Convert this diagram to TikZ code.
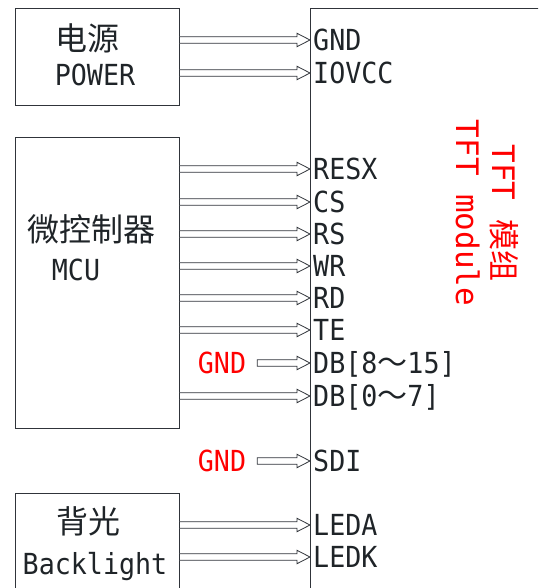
\documentclass[tikz,border=0pt]{standalone}
\usepackage{fontspec}
\usetikzlibrary{calc}
\newfontfamily\pinfont[FakeStretch=0.92]{DejaVu Sans Mono}
\newfontfamily\tftfont{DejaVu Sans Mono}
\newfontfamily\cjkfont{Noto Sans CJK SC}
\definecolor{linie}{HTML}{30343A}
\definecolor{schrift}{HTML}{1F2428}
\newcommand{\welle}{{\cjkfont\fontsize{30}{30}\selectfont ～}}
\newcommand{\sigpfeil}[2]{\draw[pfeil] let \p1=(#1), \p2=(#2) in
  (\x1,\y2+3.3pt) -- (\x2-13pt,\y2+3.3pt) -- (\x2-13pt,\y2+6.7pt) -- (\x2,\y2)
  -- (\x2-13pt,\y2-6.7pt) -- (\x2-13pt,\y2-3.3pt) -- (\x1,\y2-3.3pt) -- cycle;}
\begin{document}
\begin{tikzpicture}[
      x=1pt, y=-1pt,
      box/.style={draw=linie, line width=0.9pt, inner sep=0pt, minimum width=164pt},
      cn/.style={text=schrift, font=\cjkfont\fontsize{32}{36}\selectfont},
      en/.style={text=schrift, inner sep=0pt, text height=21pt, text depth=0pt, font=\pinfont\fontsize{29}{32}\selectfont},
      pin/.style={en, anchor=west, inner xsep=3pt},
      rot/.style={en, text=red},
      pfeil/.style={draw=linie, line width=0.8pt, fill=white}
    ]
      \useasboundingbox (0,0) rectangle (538,588);
      \clip (0,0) rectangle (538,588);
      \node[box, minimum height=97pt] (power) at (97,56.5) {};
      \node[box, minimum height=291pt] (mcu) at (97,282.5) {};
      \node[box, minimum height=150pt] (backlight) at (97,568) {};
      \node[box, minimum width=290pt, minimum height=692pt] (tft) at (455,354) {};
      \node[cn] (powercn) at (87,38) {电源};
      \node[en] (poweren) at (95,75) {POWER};
      \node[cn] (mcucn) at (91,229) {微控制器};
      \node[en] (mcuen) at (76,270) {MCU};
      \node[cn] (backlightcn) at (88,521) {背光};
      \node[en] (backlighten) at (95,564) {Backlight};
      \node[pin] (gnd) at (310,40) {GND};
      \node[pin] (iovcc) at (310,73) {IOVCC};
      \node[pin] (resx) at (310,169) {RESX};
      \node[pin] (cs) at (310,202) {CS};
      \node[pin] (rs) at (310,234) {RS};
      \node[pin] (wr) at (310,266) {WR};
      \node[pin] (rd) at (310,298) {RD};
      \node[pin] (te) at (310,330) {TE};
      \node[pin] (dbhi) at (310,363) {DB[8\welle 15]};
      \node[pin] (dblo) at (310,396) {DB[0\welle 7]};
      \node[pin] (sdi) at (310,461) {SDI};
      \node[pin] (leda) at (310,525) {LEDA};
      \node[pin] (ledk) at (310,557) {LEDK};
      \node[rot] (gnddb) at (222,363) {GND};
      \node[rot] (gndsdi) at (222,461) {GND};
      \node[rotate=-90, text=red, align=center, font=\tftfont\fontsize{31}{36}\selectfont] (tftname) at (487,213) {TFT {\cjkfont 模组}\\TFT module};
      \sigpfeil{power.east |- gnd.west}{gnd.west}
      \sigpfeil{power.east |- iovcc.west}{iovcc.west}
      \foreach \sig in {resx, cs, rs, wr, rd, te, dblo} {
        \sigpfeil{mcu.east |- \sig.west}{\sig.west}
      }
      \sigpfeil{[xshift=11pt]gnddb.east}{dbhi.west}
      \sigpfeil{[xshift=11pt]gndsdi.east}{sdi.west}
      \sigpfeil{backlight.east |- leda.west}{leda.west}
      \sigpfeil{backlight.east |- ledk.west}{ledk.west}
    \end{tikzpicture}
\end{document}
